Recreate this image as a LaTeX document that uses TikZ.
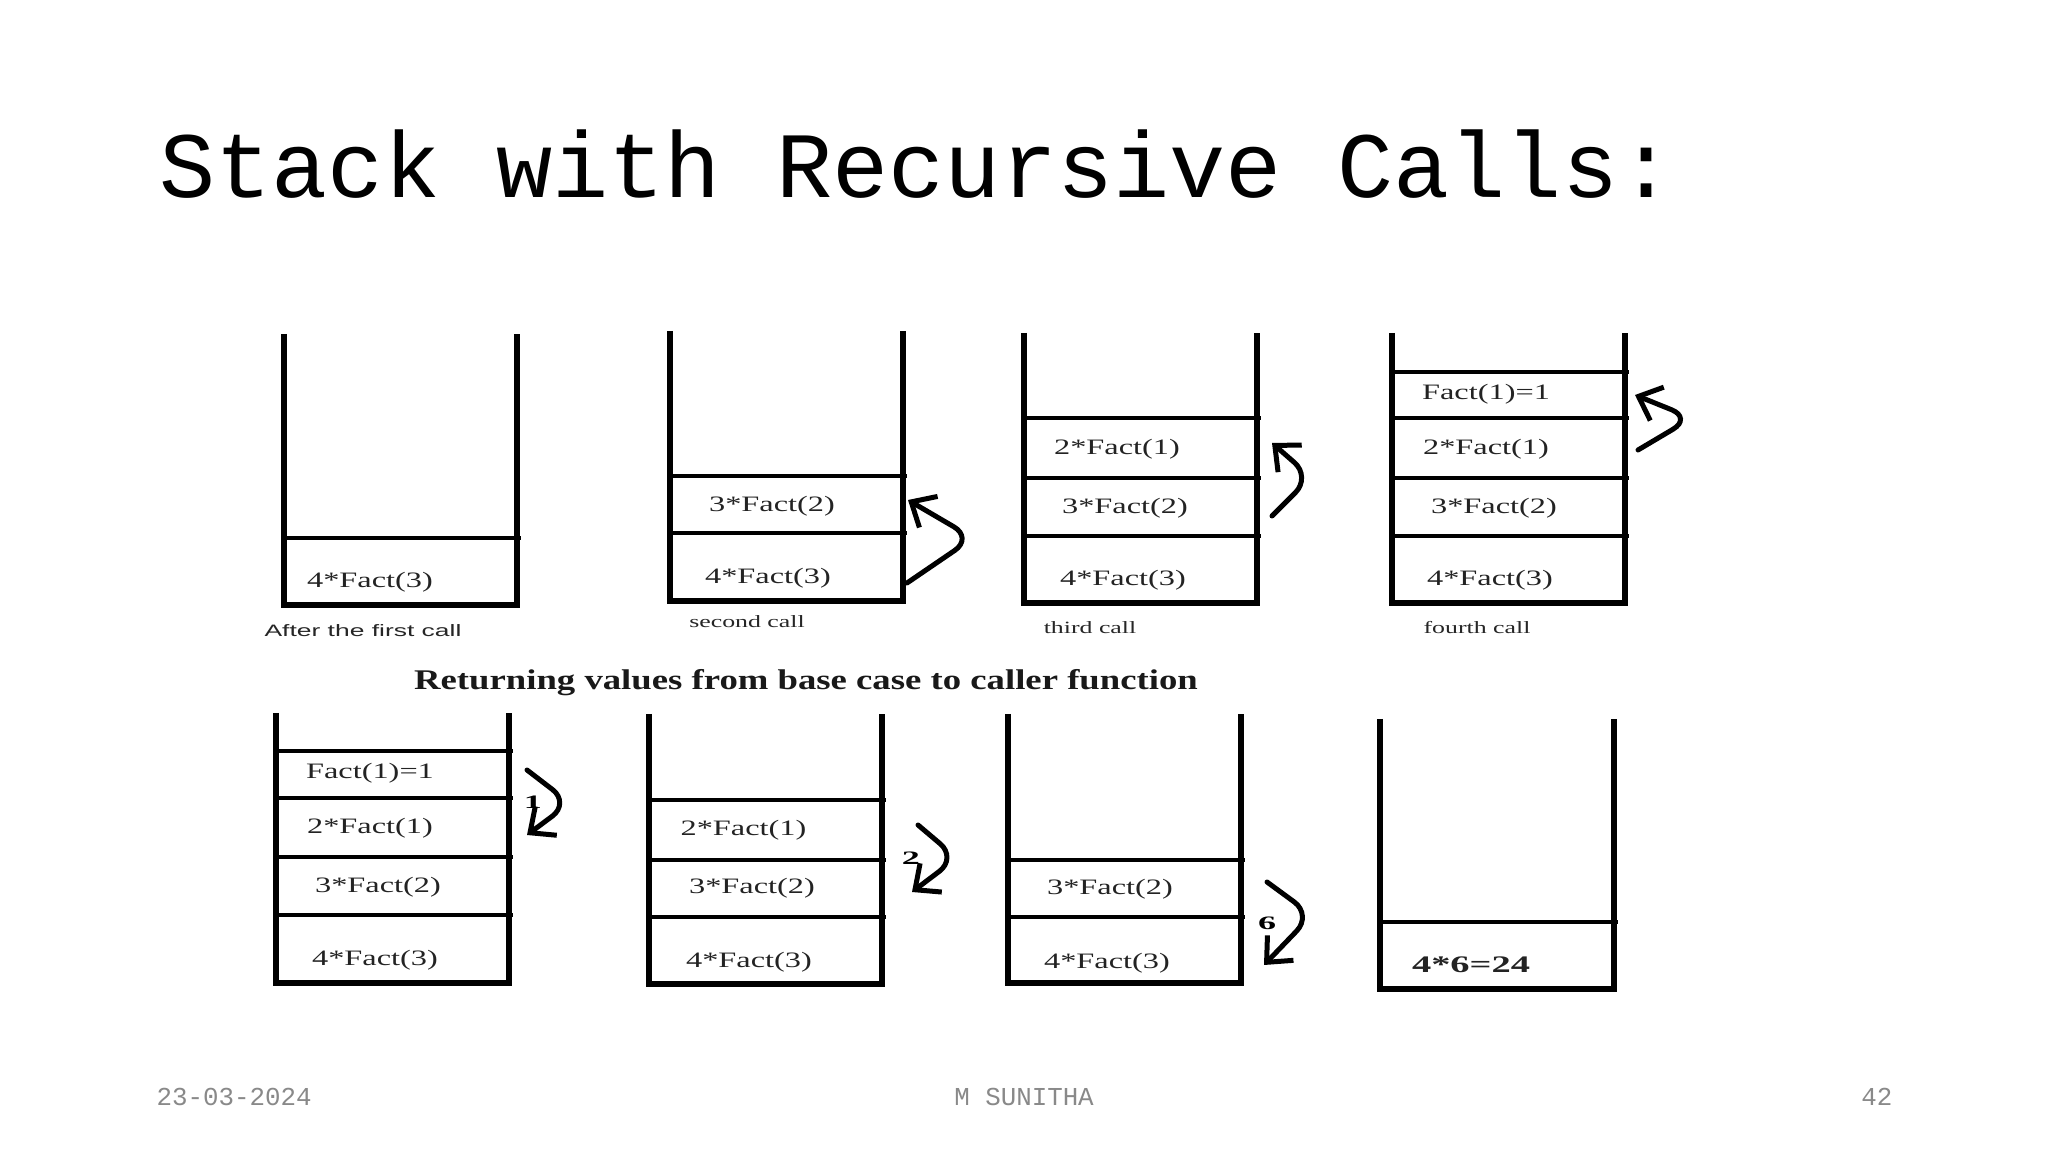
\documentclass[tikz,border=0pt]{standalone}
\usepackage{fontspec}
\usepackage{graphicx}
\setmainfont{Liberation Serif}
\newfontfamily\sansf{Liberation Sans}
\newfontfamily\monof{Liberation Mono}
\usetikzlibrary{arrows.meta}
\definecolor{footgray}{RGB}{137,137,137}
\definecolor{lblcol}{RGB}{35,35,35}
\newcommand\sx[2]{\scalebox{#1}[1]{#2}}
\newcommand\mystack[5]{%
  \draw[wall] (#1,#3) -- (#1,#4) -- (#2,#4) -- (#2,#3);
  \foreach \d in {#5} \draw[divider] (#1,\d) -- (#2+4,\d);
}
\tikzset{
  wall/.style={line width=0.6mm, line join=miter, line cap=butt},
  divider/.style={line width=0.38mm},
  lbl/.style={anchor=base, inner sep=0, text=lblcol, font=\fontsize{6.26}{7}\selectfont},
  captxt/.style={anchor=base, inner sep=0, text=black!85, font=\fontsize{4.9}{6}\selectfont},
  num/.style={anchor=center, inner sep=0, font=\bfseries\fontsize{5.4}{6}\selectfont},
  arr/.style={line width=0.5mm, line cap=round, rounded corners=2.2mm, -{Straight Barb[length=2mm,width=3.6mm]}},
  foot/.style={anchor=base, inner sep=0, text=footgray, font=\monof\fontsize{7.35}{9}\selectfont}
}
\begin{document}
\begin{tikzpicture}[x=0.1mm,y=-0.1mm]
\fill[white] (0,0) rectangle (2048,1152);
\useasboundingbox (0,0) rectangle (2048,1152);

% title
\node[anchor=base west, inner sep=0, font=\monof\fontsize{26.6}{30}\selectfont] (title) at (159,198) {Stack with Recursive Calls:};

% top row stacks
\mystack{283.5}{517}{334}{605}{538}
\mystack{670}{902.6}{331}{601}{476,533}
\mystack{1024}{1257}{333}{603}{418,478,536}
\mystack{1392}{1625}{333}{603}{372,418,478,536}

% bottom row stacks
\mystack{276}{509}{713}{983}{751,798,857,915}
\mystack{649}{882}{714}{984}{800,860,917}
\mystack{1008}{1241}{714}{983}{860,917}
\mystack{1380}{1613.6}{719}{989}{922}

% labels top row
\node[lbl] (s1a) at (370,588) {\sx{1.47}{4*Fact(3)}};
\node[lbl] (s2b) at (772,512) {\sx{1.47}{3*Fact(2)}};
\node[lbl] (s2a) at (768,584) {\sx{1.47}{4*Fact(3)}};
\node[lbl] (s3c) at (1117,455) {\sx{1.47}{2*Fact(1)}};
\node[lbl] (s3b) at (1125,514) {\sx{1.47}{3*Fact(2)}};
\node[lbl] (s3a) at (1123,586) {\sx{1.47}{4*Fact(3)}};
\node[lbl] (s4d) at (1486,400) {\sx{1.47}{Fact(1)=1}};
\node[lbl] (s4c) at (1486,455) {\sx{1.47}{2*Fact(1)}};
\node[lbl] (s4b) at (1494,514) {\sx{1.47}{3*Fact(2)}};
\node[lbl] (s4a) at (1490,586) {\sx{1.47}{4*Fact(3)}};

% captions
\node[captxt, font=\sansf\fontsize{4.7}{6}\selectfont] (c1) at (363,637) {\sx{1.6}{After the first call}};
\node[captxt] (c2) at (747,628) {\sx{1.5}{second call}};
\node[captxt] (c3) at (1090,634) {\sx{1.5}{third call}};
\node[captxt] (c4) at (1477,634) {\sx{1.5}{fourth call}};

% middle heading
\node[anchor=base, inner sep=0, font=\bfseries\fontsize{8.1}{10}\selectfont, text=black!90] (mid) at (806,690) {\sx{1.29}{Returning values from base case to caller function}};

% labels bottom row
\node[lbl] (s5d) at (370,779) {\sx{1.47}{Fact(1)=1}};
\node[lbl] (s5c) at (370,834) {\sx{1.47}{2*Fact(1)}};
\node[lbl] (s5b) at (378,893) {\sx{1.47}{3*Fact(2)}};
\node[lbl] (s5a) at (375,966) {\sx{1.47}{4*Fact(3)}};
\node[lbl] (s6c) at (743.5,836) {\sx{1.47}{2*Fact(1)}};
\node[lbl] (s6b) at (752,894) {\sx{1.47}{3*Fact(2)}};
\node[lbl] (s6a) at (749,968) {\sx{1.47}{4*Fact(3)}};
\node[lbl] (s7b) at (1110,895) {\sx{1.47}{3*Fact(2)}};
\node[lbl] (s7a) at (1107,969) {\sx{1.47}{4*Fact(3)}};
\node[lbl, font=\bfseries\fontsize{6.75}{8}\selectfont] (s8a) at (1471,973) {\sx{1.62}{4*6=24}};

% push arrows (top row)
\coordinate (a1s) at (907,583);
\coordinate (a1p) at (973,538);
\coordinate (a1t) at (908,500);
\draw[arr] (a1s) -- (a1p) -- (a1t);
\coordinate (a2s) at (1272,516);
\coordinate (a2p) at (1311,477);
\coordinate (a2t) at (1272,443);
\draw[arr] (a2s) -- (a2p) -- (a2t);
\coordinate (a3s) at (1638,450);
\coordinate (a3p) at (1692,418);
\coordinate (a3t) at (1635,395);
\draw[arr] (a3s) -- (a3p) -- (a3t);

% return arrows (bottom row)
\coordinate (a4s) at (527,770);
\coordinate (a4p) at (570,803);
\coordinate (a4t) at (527,835);
\draw[arr] (a4s) -- (a4p) -- (a4t);
\node[num] (n1) at (533,802) {\sx{1.9}{1}};
\coordinate (a5s) at (918,825);
\coordinate (a5p) at (957,858);
\coordinate (a5t) at (912,892);
\draw[arr] (a5s) -- (a5p) -- (a5t);
\node[num] (n2) at (911,858) {\sx{1.9}{2}};
\coordinate (a6s) at (1267,882);
\coordinate (a6p) at (1312,915);
\coordinate (a6t) at (1264,965);
\draw[arr] (a6s) -- (a6p) -- (a6t);
\node[num] (n6) at (1267,923) {\sx{1.9}{6}};

% footer
\node[foot, anchor=base west] (fdate) at (156,1105) {23-03-2024};
\node[foot] (fname) at (1024,1105) {M SUNITHA};
\node[foot, anchor=base east] (fpage) at (1893,1105) {42};
\end{tikzpicture}
\end{document}
